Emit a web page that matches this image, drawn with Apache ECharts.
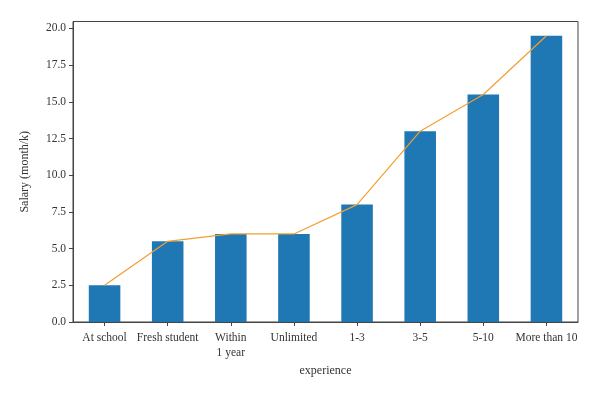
<!DOCTYPE html>
<html><head><meta charset="utf-8">
<script src="https://cdn.jsdelivr.net/npm/echarts@6/dist/echarts.min.js"></script>
<style>html,body{margin:0;padding:0;background:#fff}#c{width:600px;height:394px}</style>
</head><body><div id="c"></div>
<script>
const categories = ['At school', 'Fresh student', 'Within\n1 year', 'Unlimited', '1-3', '3-5', '5-10', 'More than 10'];
const barValues = [2.5, 5.5, 6.0, 6.0, 8.0, 13.0, 15.5, 19.5];
const lineValues = [2.5, 5.5, 6.0, 6.0, 8.0, 13.0, 15.5, 19.5];
const yTicks = [0, 2.5, 5, 7.5, 10, 12.5, 15, 17.5, 20];

const font = 'Liberation Serif';
const chart = echarts.init(document.getElementById('c'));
chart.setOption({
  animation: false,
  backgroundColor: '#fff',
  grid: {left: 73, right: 22, top: 21.5, bottom: 72, show: true, borderColor: '#444', borderWidth: 1, backgroundColor: 'transparent'},
  xAxis: {
    type: 'category', data: categories, boundaryGap: true,
    name: 'experience', nameLocation: 'middle', nameGap: 40,
    nameTextStyle: {fontFamily: font, fontSize: 12, color: '#333'},
    axisLine: {lineStyle: {color: '#444', width: 1}},
    axisTick: {show: true, alignWithLabel: true, length: 4, lineStyle: {color: '#444'}},
    axisLabel: {fontFamily: font, fontSize: 11.5, color: '#333', margin: 8, lineHeight: 15, interval: 0},
    splitLine: {show: false}
  },
  yAxis: {
    type: 'value', min: 0, max: 20.475, interval: 2.5,
    name: 'Salary (month/k)', nameLocation: 'middle', nameGap: 42,
    nameTextStyle: {fontFamily: font, fontSize: 12, color: '#333'},
    axisLine: {show: true, lineStyle: {color: '#444', width: 1}},
    axisTick: {show: true, length: 4, lineStyle: {color: '#444'}},
    axisLabel: {fontFamily: font, fontSize: 11.5, color: '#333', margin: 7, showMaxLabel: false,
      formatter: v => yTicks.includes(v) ? v.toFixed(1) : ''},
    splitLine: {show: false}
  },
  series: [
    {type: 'bar', data: barValues, barWidth: '50%', itemStyle: {color: '#1f77b4'}},
    {type: 'line', data: lineValues, symbol: 'none', lineStyle: {color: '#f0a030', width: 1.2}, z: 5}
  ]
});
</script></body></html>
